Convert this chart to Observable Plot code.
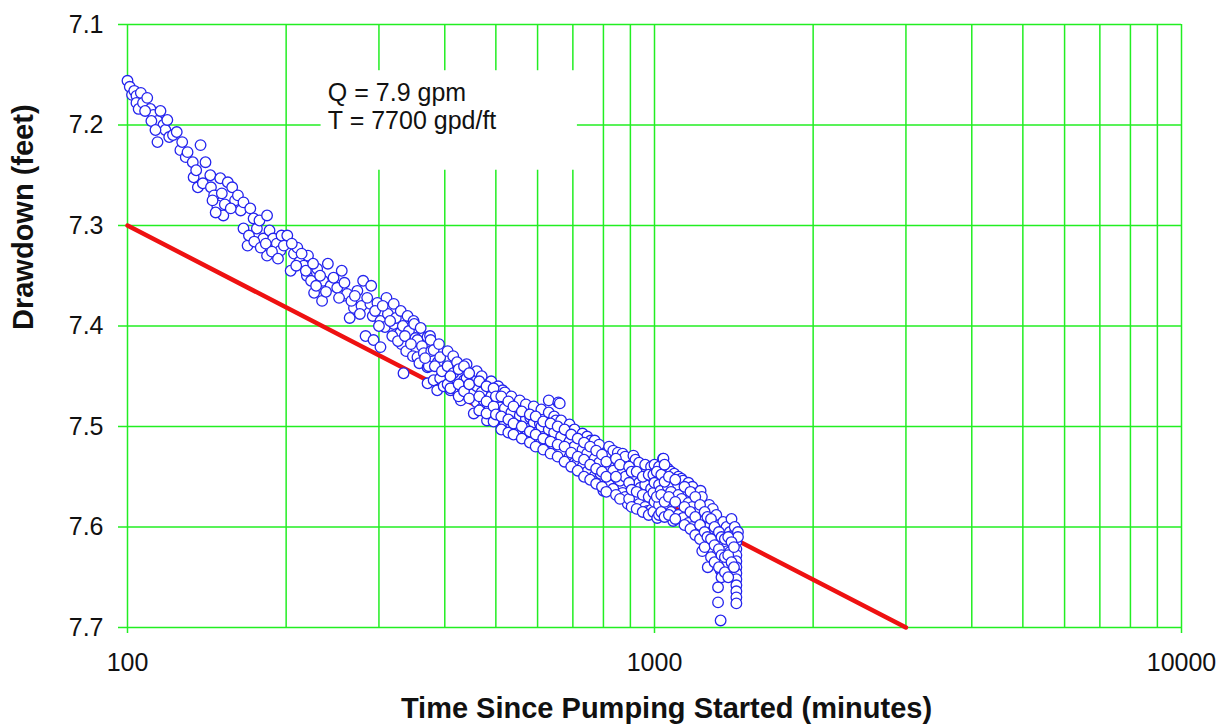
<!DOCTYPE html>
<html>
<head>
<meta charset="utf-8">
<script src="https://cdn.jsdelivr.net/npm/d3@7"></script>
<script src="https://cdn.jsdelivr.net/npm/@observablehq/plot@0.6"></script>
<style>
  html, body { margin: 0; padding: 0; background: #fff; }
  #chart svg { display: block; }
</style>
</head>
<body>
<div id="chart"></div>
<script>
// ---- Data (time since pumping started in minutes, drawdown in feet) ----
const earlyObs = [
  [100,7.156],[101,7.162],[102,7.170],[103,7.166],[104,7.171],[104,7.178],[105,7.184],[106,7.168],
  [107,7.178],[109,7.173],[110.5,7.184],[112,7.190],[114,7.196],[114,7.217],[115.5,7.186],[117,7.200],
  [118,7.205],[120,7.212],[122,7.210],[124,7.207],[126,7.225],[127,7.217],[129,7.232],[130,7.227],
  [133,7.237],[133.5,7.252],[135,7.245],[136,7.262],[137.6,7.220],[139,7.258],[140.6,7.237],[143.6,7.250],
  [144,7.262],[146,7.270],[148,7.280],[150,7.253],[152,7.290],[155,7.257],[158,7.262],[160,7.275],
  [162,7.270],[164,7.285],[166,7.277],[166,7.303],[169,7.320],[171,7.283],[173.5,7.293],[176,7.303],
  [178,7.295],[181,7.313],[184,7.290],[184,7.330],[186,7.305],[189,7.313],[192,7.318],[195,7.325],[198,7.320],
  [108,7.186],[111,7.196],[113,7.205],[119,7.195],[145,7.275],[147,7.287],[151,7.268],[153,7.279],
  [157,7.283],[170,7.310],[174,7.316],[179,7.322],[183,7.318],[188,7.326],[193,7.333],[196,7.310]
];
const midObs = [
  [201,7.310],[204,7.345],[207,7.328],[210,7.322],[212,7.336],[216,7.340],[219,7.350],[220,7.330],
  [223,7.355],[226,7.367],[229,7.343],[234,7.375],[235,7.355],[240,7.338],[243,7.360],[250,7.362],
  [255,7.345],[257,7.370],[261,7.368],[264,7.392],[269,7.382],[273,7.365],[278,7.380],[280,7.355],
  [283,7.410],[289,7.378],[290,7.360],[292,7.390],[293,7.414],[298,7.377],[302,7.421],[302,7.395],
  [308,7.401],[310,7.372],[312,7.388],[320,7.378],[320,7.398],[323,7.392],[329,7.407],[330,7.385],
  [331,7.418],[333,7.400],[334,7.447],[338,7.425],[340,7.390],[342,7.405],[348,7.430],[349,7.395],
  [350,7.398],[352,7.412],[355,7.414],[355,7.431],[358,7.437],[360,7.402],[362,7.420],[365,7.427],
  [371,7.411],[371,7.441],[371,7.457],[373,7.440],[375,7.410],[376,7.414],[377,7.425],[381,7.424],
  [381,7.454],[387,7.464],[388,7.436],[390,7.418],[392,7.431],[392,7.452],
  [205,7.318],[209,7.340],[214,7.328],[218,7.345],[225,7.338],[228,7.360],[232,7.350],[238,7.366],
  [246,7.352],[252,7.372],[258,7.357],[266,7.375],[270,7.370],[276,7.388],[285,7.372],[295,7.385],
  [300,7.400],[305,7.380],[315,7.395],[318,7.410],[326,7.415],[336,7.410],[345,7.418],[367,7.432],
  [383,7.440],[395,7.445],[398,7.460]
];
const lateObs = [
  [405,7.425],[405,7.440],[405,7.458],[410,7.464],[415,7.430],[415,7.447],[415,7.462],[422,7.436],
  [429,7.474],[435,7.454],[440,7.438],[440,7.452],[440,7.468],[454,7.467],[454,7.487],[460,7.445],
  [460,7.460],[460,7.476],[470,7.450],[470,7.466],[470,7.482],[474,7.474],[481,7.494],[487,7.481],
  [490,7.455],[490,7.470],[490,7.488],[505,7.460],[505,7.477],[505,7.492],[510,7.481],[515,7.464],
  [518,7.501],[520,7.466],[520,7.482],[520,7.496],[535,7.470],[535,7.486],[535,7.499],[549,7.481],
  [549,7.497],[555,7.474],[555,7.489],[555,7.504],[570,7.478],[570,7.492],[570,7.508],[574,7.507],
  [581,7.491],[590,7.480],[590,7.496],[590,7.511],[606,7.497],[610,7.483],[610,7.500],[610,7.513],
  [624,7.514],[630,7.474],[630,7.486],[630,7.503],[630,7.516],[645,7.490],[645,7.506],[645,7.520],
  [650,7.494],[657,7.476],[657,7.521],[661,7.477],[665,7.494],[665,7.510],[665,7.525],[683,7.504],
  [690,7.498],[690,7.515],[690,7.530],[700,7.504],[700,7.521],[705,7.503],[705,7.520],[705,7.536],
  [712,7.537],[725,7.544],[730,7.507],[730,7.523],[730,7.540],[745,7.510],[745,7.527],[745,7.545],
  [757,7.514],[770,7.514],[770,7.532],[770,7.549],[785,7.518],[785,7.536],[785,7.553],[790,7.547],
  [800,7.564],[810,7.527],[820,7.520],[820,7.540],[820,7.558],[835,7.524],[835,7.544],[835,7.562],
  [852,7.526],[860,7.554],[870,7.527],[870,7.546],[870,7.566],[880,7.530],[880,7.550],[880,7.570],
  [890,7.577],[912,7.529],[920,7.533],[920,7.553],[920,7.573],[935,7.536],[935,7.556],[935,7.577],
  [940,7.561],[960,7.538],[960,7.558],[960,7.580],[970,7.584],[985,7.540],[985,7.562],[985,7.583]
];
const denseObs = [
  [410,7.450],[410,7.462],[425,7.443],[425,7.458],[425,7.470],[435,7.440],[435,7.465],[445,7.447],
  [445,7.458],[445,7.472],[465,7.455],[465,7.470],[465,7.484],[480,7.460],[480,7.475],[480,7.487],
  [495,7.462],[495,7.480],[495,7.495],[500,7.470],[500,7.488],[512,7.470],[512,7.490],[512,7.503],
  [528,7.475],[528,7.493],[528,7.506],[540,7.480],[540,7.497],[540,7.508],[560,7.485],[560,7.500],
  [560,7.512],[580,7.488],[580,7.505],[580,7.516],[595,7.490],[595,7.508],[595,7.520],[615,7.495],
  [615,7.512],[615,7.523],[635,7.497],[635,7.515],[635,7.527],[655,7.500],[655,7.518],[655,7.530],
  [675,7.503],[675,7.520],[675,7.535],[695,7.508],[695,7.526],[695,7.540],[715,7.512],[715,7.530],
  [715,7.544],[735,7.516],[735,7.533],[735,7.550],[755,7.520],[755,7.538],[755,7.553],[775,7.524],
  [775,7.542],[775,7.557],[795,7.528],[795,7.545],[795,7.560],[810,7.535],[810,7.550],[810,7.565],
  [845,7.532],[845,7.550],[845,7.568],[860,7.538],[860,7.572],[895,7.540],[895,7.556],[895,7.572],
  [905,7.545],[905,7.563],[905,7.580],[925,7.545],[925,7.565],[925,7.582],[950,7.550],[950,7.568],
  [950,7.585],[975,7.548],[975,7.570],[975,7.588],[995,7.548],[995,7.566],[995,7.585]
];
const tailObs = [
  [1000,7.538],[1000,7.556],[1000,7.575],[1012,7.591],[1020,7.540],[1020,7.558],[1020,7.578],[1020,7.588],
  [1027,7.564],[1038,7.532],[1040,7.532],[1060,7.542],[1060,7.560],[1060,7.579],[1060,7.584],[1075,7.545],
  [1075,7.565],[1075,7.585],[1085,7.594],[1090,7.547],[1110,7.550],[1110,7.568],[1110,7.588],[1125,7.552],
  [1125,7.572],[1125,7.592],[1133,7.554],[1133,7.591],[1160,7.556],[1160,7.576],[1160,7.596],[1180,7.560],
  [1180,7.580],[1180,7.600],[1210,7.566],[1210,7.585],[1210,7.605],[1223,7.564],[1230,7.570],[1230,7.590],
  [1230,7.610],[1232,7.624],[1240,7.594],[1255,7.581],[1262,7.640],[1270,7.578],[1270,7.600],[1270,7.618],
  [1290,7.582],[1290,7.604],[1290,7.622],[1310,7.588],[1310,7.610],[1310,7.628],[1320,7.660],[1320,7.675],
  [1335,7.601],[1335,7.643],[1335,7.693],[1350,7.595],[1350,7.615],[1350,7.632],[1370,7.600],[1370,7.620],
  [1370,7.638],[1375,7.624],[1390,7.605],[1390,7.625],[1390,7.645],[1400,7.592],[1400,7.609],[1410,7.630],
  [1420,7.600],[1420,7.612],[1430,7.615],[1430,7.622],[1430,7.628],[1430,7.634],[1430,7.640],[1430,7.646],
  [1430,7.652],[1430,7.658],[1430,7.664],[1430,7.670],[1430,7.676],[1440,7.605],[1440,7.610],
  [1010,7.545],[1010,7.570],[1030,7.548],[1030,7.568],[1030,7.585],[1045,7.538],[1045,7.555],[1045,7.575],
  [1045,7.590],[1065,7.550],[1065,7.570],[1065,7.588],[1095,7.553],[1095,7.575],[1095,7.592],[1140,7.560],
  [1140,7.580],[1140,7.598],[1170,7.565],[1170,7.585],[1170,7.602],[1195,7.570],[1195,7.590],[1195,7.608],
  [1220,7.578],[1220,7.598],[1220,7.612],[1245,7.585],[1245,7.605],[1245,7.620],[1260,7.590],[1260,7.610],
  [1280,7.592],[1280,7.612],[1280,7.630],[1300,7.600],[1300,7.618],[1300,7.635],[1325,7.605],[1325,7.622],
  [1325,7.640],[1340,7.610],[1340,7.628],[1340,7.650],[1360,7.612],[1360,7.630],[1360,7.645],[1380,7.610],
  [1380,7.628],[1380,7.650],[1400,7.615],[1400,7.635],[1415,7.620],[1415,7.640]
];

// Straight-line (Cooper-Jacob) fit
const fitTimes = [100, 3000];
const fitDrawdowns = [7.3, 7.7];

// Axis ticks
const xTickValues = [100, 1000, 10000];
const xGridValues = [100, 200, 300, 400, 500, 600, 700, 800, 900,
                     1000, 2000, 3000, 4000, 5000, 6000, 7000, 8000, 9000, 10000];
const yTickValues = [7.1, 7.2, 7.3, 7.4, 7.5, 7.6, 7.7];

// Annotation
const noteLines = ["Q = 7.9 gpm", "T = 7700 gpd/ft"];
const noteAnchor = {time: 240, drawdown: 7.2035};
const noteBox = {time1: 233, time2: 714, drawdown1: 7.146, drawdown2: 7.245};

const xTitle = "Time Since Pumping Started (minutes)";
const yTitle = "Drawdown (feet)";

// ---- Build ----
const points = [...earlyObs, ...midObs, ...lateObs, ...denseObs, ...tailObs]
  .map(([time, drawdown]) => ({time, drawdown}));
const fit = fitTimes.map((t, i) => ({time: t, drawdown: fitDrawdowns[i]}));

const GREEN = "#22ee22";
const FONT = "'Liberation Sans', Arial, Helvetica, sans-serif";

const chart = Plot.plot({
  width: 1230,
  height: 725,
  marginLeft: 127,
  marginRight: 49,
  marginTop: 24,
  marginBottom: 98,
  style: {fontFamily: FONT, fontSize: "25px", color: "#111", background: "#fff"},
  x: {type: "log", domain: [100, 10000]},
  y: {domain: [7.1, 7.7], reverse: true},
  marks: [
    Plot.gridX(xGridValues, {stroke: GREEN, strokeOpacity: 1, strokeWidth: 1.5}),
    Plot.gridY(yTickValues, {stroke: GREEN, strokeOpacity: 1, strokeWidth: 1.5}),
    Plot.rect([noteBox], {x1: "time1", x2: "time2", y1: "drawdown1", y2: "drawdown2", fill: "white"}),
    Plot.axisY({ticks: yTickValues, tickFormat: d => d.toFixed(1), tickSize: 9, tickPadding: 15,
                stroke: GREEN, strokeWidth: 1.5, fill: "#111", label: null}),
    Plot.axisX({ticks: xTickValues, tickFormat: d => String(d), tickSize: 6, tickPadding: 20,
                stroke: GREEN, strokeWidth: 1.5, fill: "#111", label: null}),
    Plot.line(fit, {x: "time", y: "drawdown", stroke: "#ee1111", strokeWidth: 4.5}),
    Plot.dot(points, {x: "time", y: "drawdown", r: 5.3, stroke: "#2424ee", strokeWidth: 1.3, fill: "white"}),
    Plot.text([noteAnchor], {x: "time", y: "drawdown", text: () => noteLines.join("\n"),
               textAnchor: "start", lineAnchor: "bottom", lineHeight: 1.12, fontSize: 25, fill: "#111"}),
    Plot.text([yTitle], {frameAnchor: "left", dx: -104, dy: 4, rotate: -90, fontSize: 29,
               fontWeight: "bold", fill: "#111", lineAnchor: "middle"}),
    Plot.text([xTitle], {frameAnchor: "bottom", dx: 12, dy: 81, fontSize: 29,
               fontWeight: "bold", fill: "#111", lineAnchor: "middle"})
  ]
});
document.getElementById("chart").appendChild(chart);
</script>
</body>
</html>
